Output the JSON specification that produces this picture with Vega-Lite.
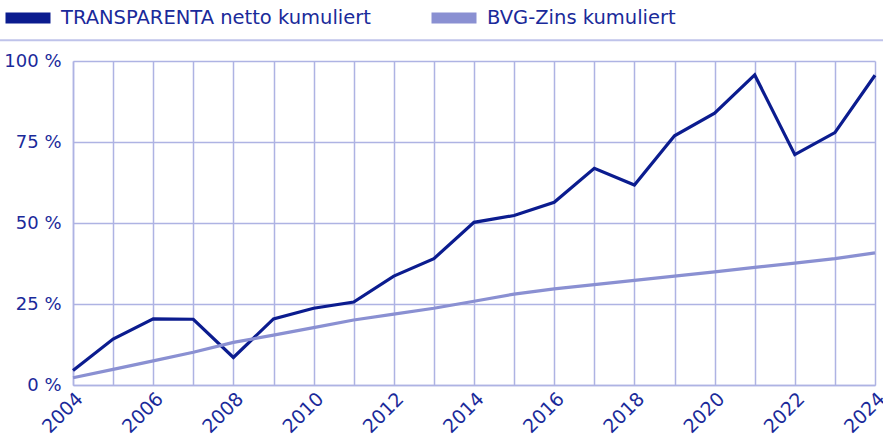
{
  "$schema": "https://vega.github.io/schema/vega-lite/v6.json",
  "autosize": "none",
  "width": 802,
  "height": 324,
  "padding": {"left": 73, "top": 61, "right": 8, "bottom": 55},
  "background": "white",
  "config": {
    "font": "DejaVu Sans",
    "view": {"stroke": null},
    "axis": {
      "gridColor": "#aeb3e3",
      "gridWidth": 1.5,
      "gridOpacity": 1,
      "domainColor": "#aeb3e3",
      "domainWidth": 1.5,
      "ticks": false,
      "labelColor": "#1a2a9a",
      "labelFont": "DejaVu Sans",
      "labelFontSize": 18,
      "title": null
    }
  },
  "datasets": {
    "series": [
      {"year": 2004, "series": "TRANSPARENTA netto kumuliert", "value": 4.5},
      {"year": 2005, "series": "TRANSPARENTA netto kumuliert", "value": 14.2},
      {"year": 2006, "series": "TRANSPARENTA netto kumuliert", "value": 20.4},
      {"year": 2007, "series": "TRANSPARENTA netto kumuliert", "value": 20.3},
      {"year": 2008, "series": "TRANSPARENTA netto kumuliert", "value": 8.5},
      {"year": 2009, "series": "TRANSPARENTA netto kumuliert", "value": 20.4},
      {"year": 2010, "series": "TRANSPARENTA netto kumuliert", "value": 23.7},
      {"year": 2011, "series": "TRANSPARENTA netto kumuliert", "value": 25.6},
      {"year": 2012, "series": "TRANSPARENTA netto kumuliert", "value": 33.6},
      {"year": 2013, "series": "TRANSPARENTA netto kumuliert", "value": 39.0},
      {"year": 2014, "series": "TRANSPARENTA netto kumuliert", "value": 50.2},
      {"year": 2015, "series": "TRANSPARENTA netto kumuliert", "value": 52.3},
      {"year": 2016, "series": "TRANSPARENTA netto kumuliert", "value": 56.4},
      {"year": 2017, "series": "TRANSPARENTA netto kumuliert", "value": 66.9},
      {"year": 2018, "series": "TRANSPARENTA netto kumuliert", "value": 61.7},
      {"year": 2019, "series": "TRANSPARENTA netto kumuliert", "value": 76.9},
      {"year": 2020, "series": "TRANSPARENTA netto kumuliert", "value": 83.9},
      {"year": 2021, "series": "TRANSPARENTA netto kumuliert", "value": 95.7},
      {"year": 2022, "series": "TRANSPARENTA netto kumuliert", "value": 71.1},
      {"year": 2023, "series": "TRANSPARENTA netto kumuliert", "value": 77.9},
      {"year": 2024, "series": "TRANSPARENTA netto kumuliert", "value": 95.6},
      {"year": 2004, "series": "BVG-Zins kumuliert", "value": 2.25},
      {"year": 2005, "series": "BVG-Zins kumuliert", "value": 4.81},
      {"year": 2006, "series": "BVG-Zins kumuliert", "value": 7.43},
      {"year": 2007, "series": "BVG-Zins kumuliert", "value": 10.11},
      {"year": 2008, "series": "BVG-Zins kumuliert", "value": 13.14},
      {"year": 2009, "series": "BVG-Zins kumuliert", "value": 15.4},
      {"year": 2010, "series": "BVG-Zins kumuliert", "value": 17.71},
      {"year": 2011, "series": "BVG-Zins kumuliert", "value": 20.07},
      {"year": 2012, "series": "BVG-Zins kumuliert", "value": 21.87},
      {"year": 2013, "series": "BVG-Zins kumuliert", "value": 23.7},
      {"year": 2014, "series": "BVG-Zins kumuliert", "value": 25.86},
      {"year": 2015, "series": "BVG-Zins kumuliert", "value": 28.06},
      {"year": 2016, "series": "BVG-Zins kumuliert", "value": 29.66},
      {"year": 2017, "series": "BVG-Zins kumuliert", "value": 30.96},
      {"year": 2018, "series": "BVG-Zins kumuliert", "value": 32.27},
      {"year": 2019, "series": "BVG-Zins kumuliert", "value": 33.59},
      {"year": 2020, "series": "BVG-Zins kumuliert", "value": 34.93},
      {"year": 2021, "series": "BVG-Zins kumuliert", "value": 36.28},
      {"year": 2022, "series": "BVG-Zins kumuliert", "value": 37.64},
      {"year": 2023, "series": "BVG-Zins kumuliert", "value": 39.02},
      {"year": 2024, "series": "BVG-Zins kumuliert", "value": 40.76}
    ],
    "separator": [{"x1": 2002.18, "x2": 2024.2, "y": 106.4}]
  },
  "layer": [
    {
      "data": {"name": "series"},
      "mark": {"type": "line", "strokeWidth": 3.2, "strokeJoin": "miter"},
      "encoding": {
        "x": {
          "field": "year",
          "type": "quantitative",
          "scale": {"domain": [2004, 2024], "nice": false, "zero": false},
          "axis": {
            "values": [2004, 2005, 2006, 2007, 2008, 2009, 2010, 2011, 2012, 2013, 2014, 2015, 2016, 2017, 2018, 2019, 2020, 2021, 2022, 2023, 2024],
            "format": "d",
            "labelExpr": "datum.value % 2 == 0 ? datum.label : ''",
            "labelAngle": -45,
            "labelAlign": "right",
            "labelBaseline": "top",
            "labelFontSize": 19,
            "labelPadding": 4,
            "labelDx": 2,
            "labelOverlap": false,
            "labelFlush": false,
            "labelBound": false
          }
        },
        "y": {
          "field": "value",
          "type": "quantitative",
          "scale": {"domain": [0, 100], "nice": false},
          "axis": {
            "values": [0, 25, 50, 75, 100],
            "labelExpr": "datum.value + ' %'",
            "labelPadding": 12,
            "labelFlush": false,
            "labelBaseline": "middle"
          }
        },
        "color": {
          "field": "series",
          "type": "nominal",
          "scale": {
            "domain": ["TRANSPARENTA netto kumuliert", "BVG-Zins kumuliert"],
            "range": ["#0b1c8f", "#8a90d2"]
          },
          "legend": {
            "orient": "none",
            "legendX": -73,
            "legendY": -71,
            "direction": "horizontal",
            "title": null,
            "symbolType": "stroke",
            "symbolSize": 2025,
            "symbolStrokeWidth": 11,
            "labelFontSize": 19.5,
            "labelFont": "DejaVu Sans",
            "labelColor": "#1a2a9a",
            "labelOffset": 5,
            "labelLimit": 500,
            "columnPadding": 38,
            "padding": 0
          }
        }
      }
    },
    {
      "data": {"name": "separator"},
      "mark": {"type": "rule", "color": "#bfc3ea", "strokeWidth": 2, "clip": false},
      "encoding": {
        "x": {"field": "x1", "type": "quantitative"},
        "x2": {"field": "x2"},
        "y": {"field": "y", "type": "quantitative"}
      }
    }
  ]
}
